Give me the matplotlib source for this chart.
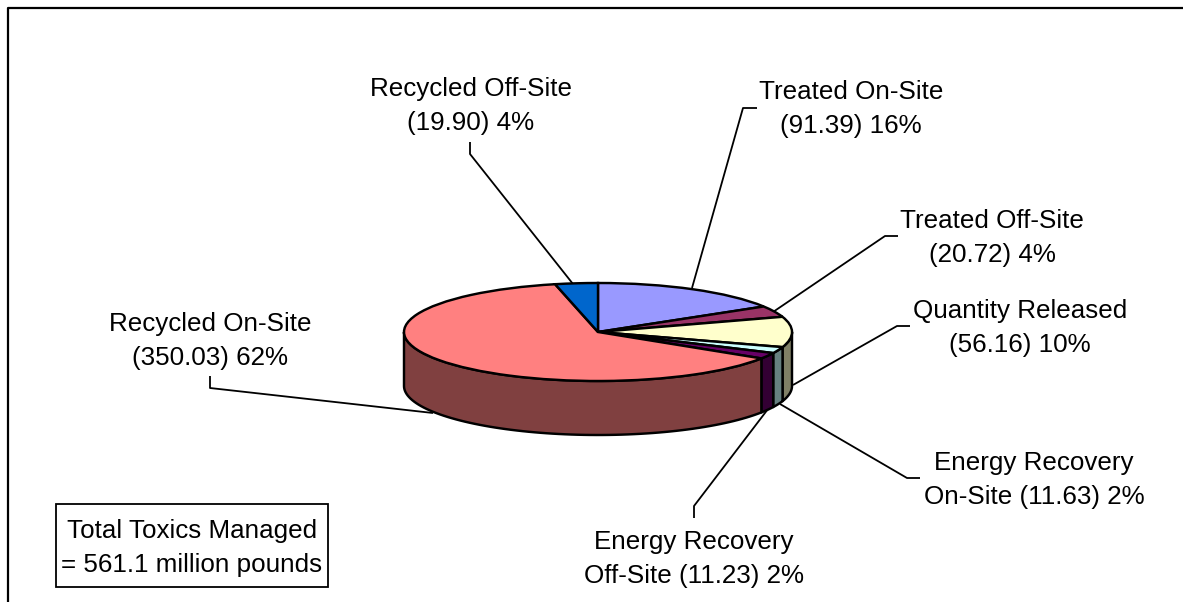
import matplotlib
matplotlib.use('Agg')
import matplotlib.pyplot as plt
from matplotlib.patches import Polygon, Rectangle
import numpy as np

plt.rcParams['font.family'] = ['Liberation Sans', 'DejaVu Sans']

# clockwise from 12 o'clock
categories = ['Treated On-Site', 'Treated Off-Site', 'Quantity Released',
              'Energy Recovery On-Site', 'Energy Recovery Off-Site',
              'Recycled On-Site', 'Recycled Off-Site']
values = [91.39, 20.72, 56.16, 11.63, 11.23, 350.03, 19.90]
top_colors = ['#9999FF', '#993366', '#FFFFCC', '#CCFFFF', '#660066', '#FF8080', '#0066CC']
side_colors = ['#4D4D80', '#4D1A33', '#808066', '#668080', '#330033', '#804040', '#003366']

label_texts = ['Treated On-Site\n(91.39) 16%', 'Treated Off-Site\n(20.72) 4%',
               'Quantity Released\n(56.16) 10%', 'Energy Recovery\nOn-Site (11.63) 2%',
               'Energy Recovery\nOff-Site (11.23) 2%', 'Recycled On-Site\n(350.03) 62%',
               'Recycled Off-Site\n(19.90) 4%']
label_pos = [(851, 109), (992, 238), (1020, 328), (1034, 480), (694, 559), (210, 341), (471, 106)]
leaders = [[(757, 108), (743, 108), (692, 288)],
           [(898, 236), (885, 236), (773, 312)],
           [(910, 326), (897, 326), (793, 385)],
           [(920, 478), (907, 478), (780, 404)],
           [(694, 518), (694, 506), (768, 409)],
           [(210, 376), (210, 388), (433, 413)],
           [(470, 142), (470, 154), (573, 284)]]

W, H = 1183, 602
cx, cy, rx, ry, depth = 598, 332, 194, 49, 54
lw = 1.75
font_size = 18.7
line_space = 1.5

fig = plt.figure(figsize=(W / 100, H / 100), dpi=100)

# pixel axes for frame, labels and leader lines
bg = fig.add_axes([0, 0, 1, 1])
bg.set_xlim(0, W)
bg.set_ylim(H, 0)
bg.axis('off')
bg.plot([8, 8, W + 5], [H + 5, 8, 8], color='black', lw=1.6, clip_on=False)

for pts in leaders:
    xs, ys = zip(*pts)
    bg.plot(xs, ys, color='black', lw=1.3, solid_capstyle='butt')
for txt, (x, y) in zip(label_texts, label_pos):
    bg.text(x, y, txt, ha='center', va='center', fontsize=font_size, linespacing=line_space, color='black')

bg.add_patch(Rectangle((56, 504), 272, 83, fc='white', ec='black', lw=1.3))
bg.text(192, 548, 'Total Toxics Managed\n= 561.1 million pounds', ha='center', va='center',
        fontsize=font_size, linespacing=line_space)

# pie axes: one data unit is rx pixels across and ry pixels down, so the circle is squashed
ax = fig.add_axes([0, 0, 1, 1])
ax.patch.set_alpha(0)
fracs = np.array(values) / sum(values)
edges = np.concatenate([[0], np.cumsum(fracs) * 360])
d = depth / ry

# side wall, only the front half (90-270 deg clockwise from top) shows
for a, b, c in zip(edges[:-1], edges[1:], side_colors):
    a2, b2 = max(a, 90), min(b, 270)
    if a2 >= b2:
        continue
    t = np.radians(np.linspace(a2, b2, 80))
    xs, ys = np.sin(t), np.cos(t)
    verts = np.column_stack([np.r_[xs, xs[::-1]], np.r_[ys, ys[::-1] - d]])
    ax.add_patch(Polygon(verts, closed=True, fc=c, ec='black', lw=lw, joinstyle='round'))

ax.pie(values, startangle=90, counterclock=False, radius=1, colors=top_colors,
       wedgeprops={'edgecolor': 'black', 'linewidth': lw})
ax.set_aspect('auto')
ax.set_xlim(-cx / rx, (W - cx) / rx)
ax.set_ylim(-(H - cy) / ry, cy / ry)
ax.axis('off')

fig.savefig('out.png', dpi=100, facecolor='white')
